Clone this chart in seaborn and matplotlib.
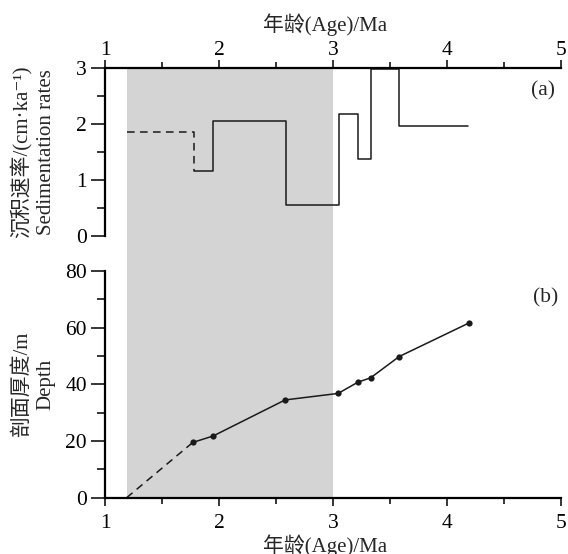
import numpy as np
import pandas as pd
import matplotlib.pyplot as plt
from matplotlib.ticker import MultipleLocator
import seaborn as sns

# sedimentation rate steps (cm/ka), edges in Ma
rate_dash_age = [1.19, 1.78]
rate_dash_val = [1.85, 1.16]
rate_age = [1.78, 1.95, 2.585, 3.05, 3.22, 3.33, 3.576, 4.18]
rate_val = [1.16, 2.05, 0.55, 2.17, 1.37, 2.98, 1.97, 1.97]

# depth vs age
depth_dash_age = [1.19, 1.77]
depth_dash_val = [0.0, 19.5]
depth_age = [1.77, 1.95, 2.58, 3.045, 3.22, 3.33, 3.58, 4.19]
depth_val = [19.5, 21.8, 34.5, 36.8, 40.8, 42.3, 49.8, 61.6]

shade = (1.19, 3.0)
xlabel = '年龄(Age)/Ma'

sns.set_theme(style='ticks')
plt.rcParams['font.family'] = ['Liberation Serif', 'Noto Sans CJK SC', 'DejaVu Sans']
plt.rcParams['font.size'] = 15
plt.rcParams['axes.unicode_minus'] = False

fig = plt.figure(figsize=(5.68, 5.54), dpi=100)
W, H = 568, 554
left, width = 105 / W, (561 - 105) / W
ax_bg = fig.add_axes([left, 1 - 497.7 / H, width, (497.7 - 68) / H], zorder=0)
ax_a = fig.add_axes([left, 1 - 236 / H, width, (236 - 68) / H], zorder=1)
ax_b = fig.add_axes([left, 1 - 497.7 / H, width, (497.7 - 271) / H], zorder=1)

ax_bg.axvspan(*shade, color='#d4d4d4', lw=0)
ax_bg.set_xlim(1, 5)
ax_bg.axis('off')

line_kw = dict(color='#1a1a1a', lw=1.1)
dash = (0, (5, 3.5))

# (a) sedimentation rates
sns.lineplot(x=rate_dash_age, y=rate_dash_val, ax=ax_a, drawstyle='steps-post',
             linestyle=dash, **line_kw)
sns.lineplot(x=rate_age, y=rate_val, ax=ax_a, drawstyle='steps-post', **line_kw)

# (b) depth
sns.lineplot(x=depth_dash_age, y=depth_dash_val, ax=ax_b, linestyle=dash, **line_kw)
sns.lineplot(x=depth_age, y=depth_val, ax=ax_b, marker='o', markersize=4.5,
             markeredgewidth=0, **line_kw)

for ax in (ax_a, ax_b):
    ax.set_facecolor('none')
    ax.set_xlim(1, 5)
    ax.xaxis.set_major_locator(MultipleLocator(1))
    ax.xaxis.set_minor_locator(MultipleLocator(0.5))
    ax.spines['right'].set_visible(False)
    for s in ax.spines.values():
        s.set_linewidth(1.6)
        s.set_color('black')
    ax.tick_params(axis='x', which='major', length=5.5, width=1.1, colors='black')
    ax.tick_params(axis='x', which='minor', length=4, width=1.1, colors='black')
    ax.tick_params(axis='y', which='major', length=10, width=1.1, pad=3, colors='black')
    ax.tick_params(axis='y', which='minor', length=5.5, width=1.1, colors='black')
    ax.tick_params(labelsize=15.5)

ax_a.set_ylim(0, 3)
ax_a.yaxis.set_major_locator(MultipleLocator(1))
ax_a.yaxis.set_minor_locator(MultipleLocator(0.5))
ax_a.spines['bottom'].set_visible(False)
ax_a.xaxis.tick_top()
ax_a.tick_params(axis='x', which='major', pad=0.5)
ax_a.xaxis.set_label_position('top')
ax_a.set_xlabel(xlabel, fontsize=15)
ax_a.xaxis.set_label_coords(0.482, 1.22)
ax_a.set_ylabel('沉积速率/(cm·ka⁻¹)\nSedimentation rates', fontsize=15, linespacing=1.35)
ax_a.yaxis.set_label_coords(-0.108, 0.5)
ax_a.text(0.987, 0.863, '(a)', transform=ax_a.transAxes, ha='right', va='center', fontsize=15.5)

ax_b.set_ylim(0, 80)
ax_b.yaxis.set_major_locator(MultipleLocator(20))
ax_b.yaxis.set_minor_locator(MultipleLocator(10))
ax_b.spines['top'].set_visible(False)
ax_b.tick_params(axis='x', which='major', pad=6)
ax_b.set_xlabel(xlabel, fontsize=15)
ax_b.xaxis.set_label_coords(0.482, -0.16)
ax_b.set_ylabel('剖面厚度/m\nDepth', fontsize=15, linespacing=1.35)
ax_b.yaxis.set_label_coords(-0.108, 0.5)
ax_b.text(0.993, 0.883, '(b)', transform=ax_b.transAxes, ha='right', va='center', fontsize=15.5)

fig.savefig('out.png', dpi=100)
